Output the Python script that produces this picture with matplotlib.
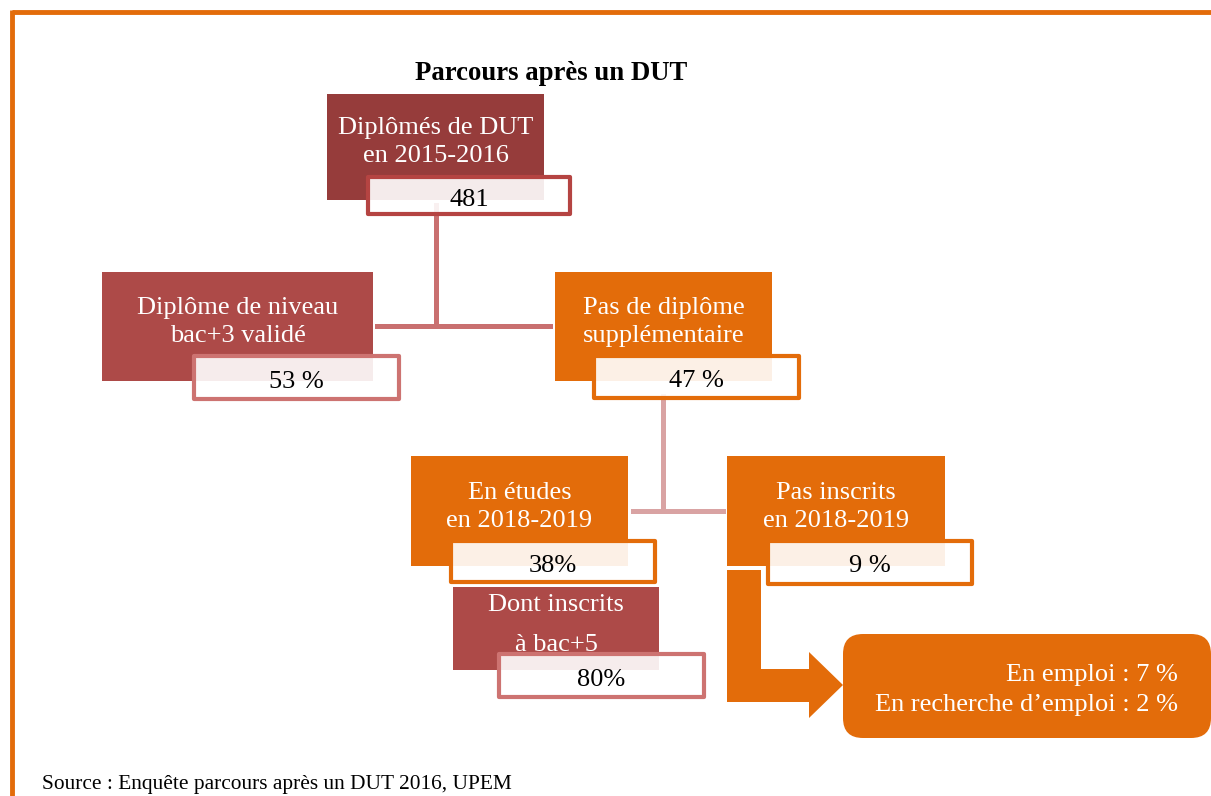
import matplotlib
matplotlib.use("Agg")
import matplotlib.pyplot as plt
from matplotlib.patches import Rectangle, Polygon, FancyBboxPatch

plt.rcParams['font.family'] = ['Liberation Serif', 'DejaVu Serif']

# --- data ---
title = "Parcours après un DUT"
node_labels = ["Diplômés de DUT\nen 2015-2016",
               "Diplôme de niveau\nbac+3 validé",
               "Pas de diplôme\nsupplémentaire",
               "En études\nen 2018-2019",
               "Dont inscrits\nà bac+5",
               "Pas inscrits\nen 2018-2019"]
node_values = ["481", "53 %", "47 %", "38%", "80%", "9 %"]
outcome_lines = ["En emploi : 7 %", "En recherche d’emploi : 2 %"]
source = "Source : Enquête parcours après un DUT 2016, UPEM"

# --- styles / layout (pixel units, y downwards) ---
ORANGE = "#E36C0A"
DARKRED = "#963C3B"
RED = "#AD4A48"
ROSE = "#CD7371"

# main box: x, y, w, h, fill ; value box: x, y, w, h, edge ; text mid-y, line spacing
boxes = [
    (327, 94, 217, 106, DARKRED, (368, 177, 202, 37, "#B54442"), 142, 1.3),
    (102, 272, 271, 109, RED, (194, 356, 205, 43, ROSE), 322, 1.3),
    (555, 272, 217, 109, ORANGE, (594, 356, 205, 42, ORANGE), 322, 1.3),
    (411, 456, 217, 110, ORANGE, (451, 541, 204, 41, ORANGE), 507, 1.3),
    (453, 587, 206, 83, RED, (499, 654, 205, 43, ROSE), 625, 2.1),
    (727, 456, 218, 110, ORANGE, (768, 541, 204, 43, ORANGE), 507, 1.3),
]

fig = plt.figure(figsize=(12.11, 7.96), dpi=100)
ax = fig.add_axes([0, 0, 1, 1])
ax.set_xlim(0, 1211)
ax.set_ylim(796, 0)
ax.axis('off')

# frame lines
ax.plot([12, 1211], [12, 12], color=ORANGE, lw=3.5, solid_capstyle='butt')
ax.plot([12, 12], [10, 796], color=ORANGE, lw=3.5, solid_capstyle='butt')

ax.text(551, 73, title, ha='center', va='center', fontsize=19.3, fontweight='bold')

# connectors
ax.plot([436, 436], [205, 326], color="#C97070", lw=3.6, zorder=2)
ax.plot([377, 550], [326, 326], color="#C97070", lw=3.6, zorder=2)
ax.plot([663, 663], [396, 511], color="#D9A3A3", lw=3.6, zorder=2)
ax.plot([633, 723], [511, 511], color="#D9A3A3", lw=3.6, zorder=2)

for label, value, b in zip(node_labels, node_values, boxes):
    x, y, w, h, fill, vb, ty, ls = b
    ax.add_patch(Rectangle((x, y), w, h, facecolor=fill, edgecolor='none', zorder=1))
    ax.text(x + w / 2, ty, label, ha='center', va='center', color='white',
            fontsize=19, linespacing=ls, zorder=4)
    vx, vy, vw, vh, edge = vb
    ax.add_patch(Rectangle((vx, vy), vw, vh, facecolor=(1, 1, 1, 0.9), edgecolor=edge,
                           lw=3, joinstyle='round', zorder=3))
    ax.text(vx + vw / 2, vy + vh / 2 + 4, value, ha='center', va='center',
            color='black', fontsize=19, zorder=4)

# bent arrow
arrow = [(727, 570), (761, 570), (761, 669), (809, 669), (809, 652), (843, 685),
         (809, 718), (809, 702), (727, 702)]
ax.add_patch(Polygon(arrow, closed=True, facecolor=ORANGE, edgecolor='none', zorder=1))

# outcome box
ax.add_patch(FancyBboxPatch((843, 634), 368, 104,
                            boxstyle="round,pad=0,rounding_size=20",
                            facecolor=ORANGE, edgecolor='none', zorder=1))
ax.text(1178, 690, "\n".join(outcome_lines), ha='right', va='center', color='white',
        fontsize=19, linespacing=1.5, zorder=4)

ax.text(42, 785, source, ha='left', va='center', fontsize=15.4)

fig.savefig("out.png", dpi=100)
